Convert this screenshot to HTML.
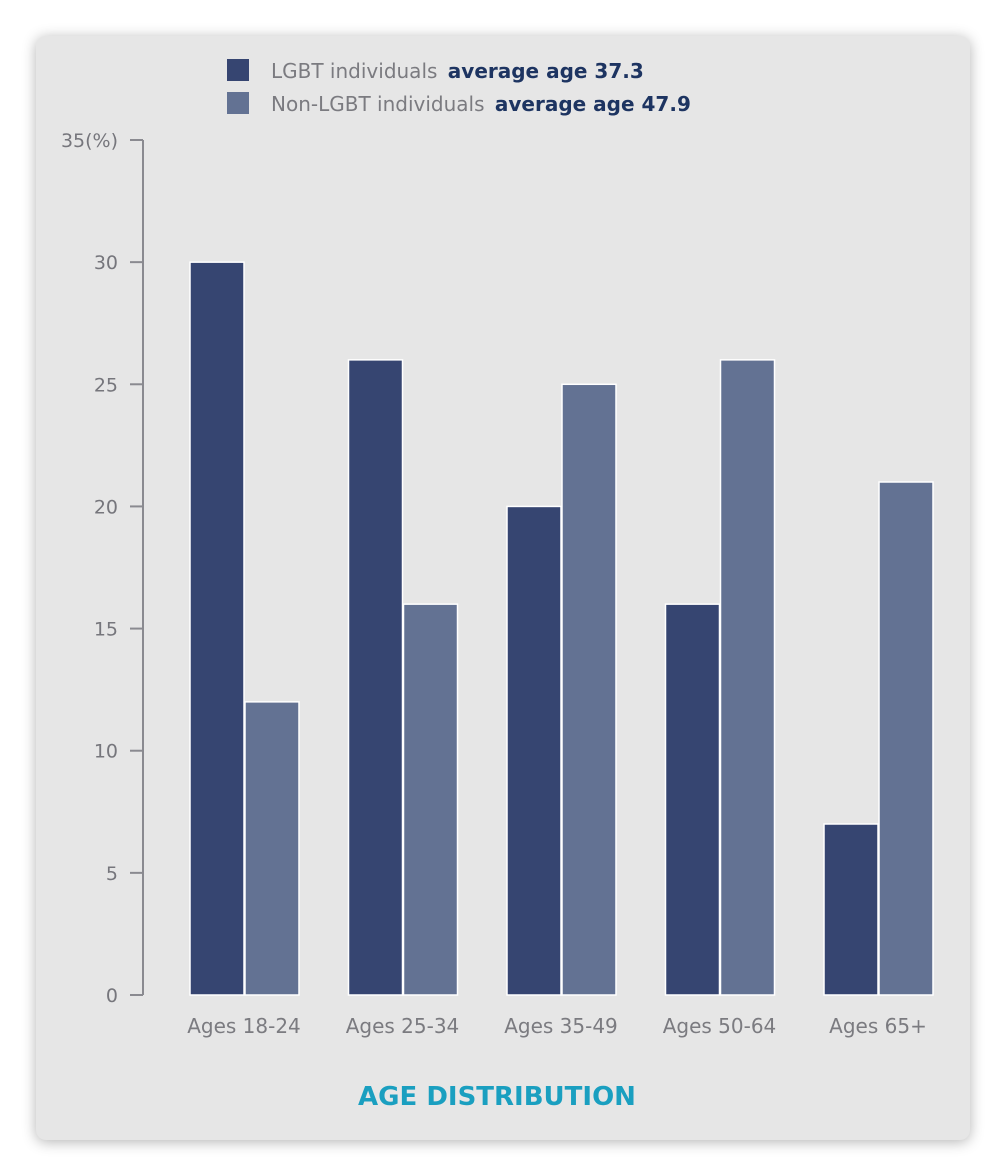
<!DOCTYPE html>
<html><head><meta charset="utf-8"><style>
body{margin:0;background:#fff;width:1006px;height:1176px;overflow:hidden;font-family:"DejaVu Sans","Liberation Sans",sans-serif}
#card{position:absolute;left:36px;top:36px;width:934px;height:1104px;background:#e6e6e6;border-radius:10px;box-shadow:0 2px 14px rgba(0,0,0,0.3)}
svg{position:absolute;left:0;top:0;font-family:"DejaVu Sans","Liberation Sans",sans-serif}
</style></head><body>
<div id="card"></div>
<svg id="chart" width="1006" height="1176">
<g>
<rect x="227" y="59" width="22" height="22" fill="#364571"/>
<text x="271" y="78" font-size="20" fill="#7b7b80">LGBT individuals <tspan fill="#1d3461" font-weight="bold" dx="4">average age 37.3</tspan></text>
<rect x="227" y="92" width="22" height="22" fill="#637293"/>
<text x="271" y="111" font-size="20" fill="#7b7b80">Non-LGBT individuals <tspan fill="#1d3461" font-weight="bold" dx="4">average age 47.9</tspan></text>
</g>
<text x="497" y="1105" font-size="26" font-weight="bold" fill="#1a9fc0" text-anchor="middle">AGE DISTRIBUTION</text>
</svg>
<script>
const categories=["Ages 18-24","Ages 25-34","Ages 35-49","Ages 50-64","Ages 65+"];
const lgbtValues=[30,26,20,16,7];
const nonLgbtValues=[12,16,25,26,21];
const tickValues=[0,5,10,15,20,25,30,35];
const tickLabels=["0","5","10","15","20","25","30","35(%)"];
const NS="http://www.w3.org/2000/svg";
const svg=document.getElementById('chart');
const y0=995,yTop=140,ymax=35;
const y=v=>y0-(v/ymax)*(y0-yTop);
const xc=i=>244+i*158.5;
function mk(t,a){const e=document.createElementNS(NS,t);for(const k in a)e.setAttribute(k,a[k]);svg.appendChild(e);return e;}
const axis=mk('line',{x1:143,y1:yTop,x2:143,y2:y0,stroke:'#8a8a90','stroke-width':2});


tickValues.forEach((v,i)=>{
  const t=mk('line',{x1:130,x2:143,y1:y(v),y2:y(v),stroke:'#8a8a90','stroke-width':2});
  
  
  const l=mk('text',{x:118,y:y(v)+7,'font-size':19,fill:'#76767c','text-anchor':'end'});
  l.textContent=tickLabels[i];
  
  
});
categories.forEach((c,i)=>{
  const a=mk('rect',{x:xc(i)-54,y:y(lgbtValues[i]),width:54,height:y0-y(lgbtValues[i]),fill:'#364571',stroke:'#fff','stroke-width':1.5});
  
  
  const b=mk('rect',{x:xc(i)+1,y:y(nonLgbtValues[i]),width:54,height:y0-y(nonLgbtValues[i]),fill:'#637293',stroke:'#fff','stroke-width':1.5});
  
  
  const l=mk('text',{x:xc(i),y:1033,'font-size':20,fill:'#7b7b80','text-anchor':'middle'});
  l.textContent=c;
  
  
});
</script>
</body></html>
